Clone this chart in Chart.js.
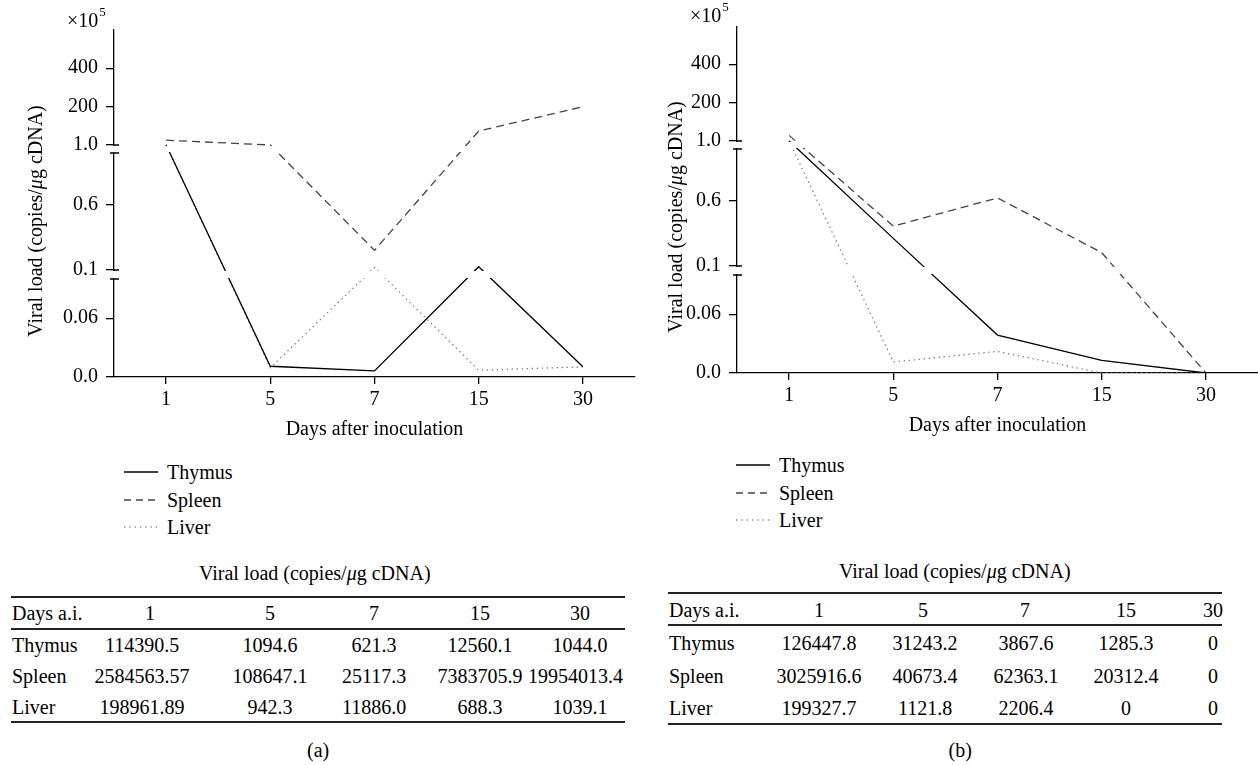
<!DOCTYPE html>
<html>
<head>
<meta charset="utf-8">
<script src="https://cdn.jsdelivr.net/npm/chart.js@4"></script>
<style>
  body { margin: 0; background: #fff; }
  #page { position: relative; width: 1258px; height: 765px; overflow: hidden;
          font-family: 'Liberation Serif', 'Times New Roman', serif; font-size: 20px; color: #000; }
  #page canvas { position: absolute; top: 0; }
  .t { position: absolute; line-height: 24px; white-space: nowrap; }
  .rule { position: absolute; background: #222; }
</style>
</head>
<body>
<div id="page">
  <canvas id="chartA" width="636" height="445" style="left:0"></canvas>
  <canvas id="chartB" width="629" height="445" style="left:629px"></canvas>
</div>
<script>
	// ******************************************************** DATA

	// days after inoculation
	var days = ['1', '5', '7', '15', '30'];
	var organs = ['Thymus', 'Spleen', 'Liver'];

	// viral load, copies/ug cDNA, panel (a)
	var thymusA = ['114390.5', '1094.6', '621.3', '12560.1', '1044.0'];
	var spleenA = ['2584563.57', '108647.1', '25117.3', '7383705.9', '19954013.4'];
	var liverA  = ['198961.89', '942.3', '11886.0', '688.3', '1039.1'];

	// viral load, copies/ug cDNA, panel (b)
	var thymusB = ['126447.8', '31243.2', '3867.6', '1285.3', '0'];
	var spleenB = ['3025916.6', '40673.4', '62363.1', '20312.4', '0'];
	var liverB  = ['199327.7', '1121.8', '2206.4', '0', '0'];

	// broken y axis, values in 1e5 copies
	var yTickValues = [0, 0.06, 0.1, 0.6, 1.0, 200, 400];
	var yTickLabels = ['0.0', '0.06', '0.1', '0.6', '1.0', '200', '400'];

	// ******************************************************** AXIS BREAKS

	// piecewise scale: 0-0.1 | 0.1-1.0 | 1.0-...
	function toUnit(v) {
		if (v < 0.1) return v * 980;
		if (v < 1) return 107 + (v - 0.1) * 130;
		return 232 + (v - 1) * 0.1925;
	}
	function toY(s) { return toUnit(parseFloat(s) / 1e5); }

	var BREAKS = [[98, 107], [224, 232]];

	var brokenAxis = {
		id: 'brokenAxis',
		afterDatasetsDraw: function (chart) {
			var ctx = chart.ctx, y = chart.scales.y, area = chart.chartArea;
			var ax = area.left;
			ctx.save();
			BREAKS.forEach(function (b) {
				var yLow = Math.round(y.getPixelForValue(b[0])), yHigh = Math.round(y.getPixelForValue(b[1]));
				ctx.fillStyle = '#fff';
				ctx.fillRect(ax - 3, yHigh + 1, area.right - ax + 6, yLow - yHigh - 2);
				ctx.strokeStyle = '#000';
				ctx.lineWidth = 1.3;
				ctx.beginPath();
				ctx.moveTo(ax - 4, yLow); ctx.lineTo(ax + 5, yLow);
				ctx.moveTo(ax, yHigh); ctx.lineTo(ax + 5, yHigh);
				ctx.stroke();
			});
			ctx.restore();
		},
		afterDraw: function (chart, args, o) {
			var ctx = chart.ctx;
			ctx.save();
			ctx.fillStyle = '#000';
			// x10^5 above the axis
			ctx.textBaseline = 'middle';
			ctx.textAlign = 'left';
			ctx.font = '20px "Liberation Serif"';
			ctx.fillText('\u00d710', o.expX, o.expY);
			var w = ctx.measureText('\u00d710').width;
			ctx.font = '13px "Liberation Serif"';
			ctx.fillText('5', o.expX + w + 1, o.expY - 9);
			// rotated y title
			var parts = [['Viral load (copies/', ''], ['\u03bc', 'italic '], ['g cDNA)', '']];
			var total = 0;
			parts.forEach(function (p) { ctx.font = p[1] + '20px "Liberation Serif"'; p.push(ctx.measureText(p[0]).width); total += p[2]; });
			ctx.translate(o.titleX, o.titleY);
			ctx.rotate(-Math.PI / 2);
			ctx.textBaseline = 'alphabetic';
			var x = -total / 2;
			parts.forEach(function (p) { ctx.font = p[1] + '20px "Liberation Serif"'; ctx.fillText(p[0], x, 0); x += p[2]; });
			ctx.restore();
		}
	};

	// ******************************************************** CHARTS

	Chart.defaults.font.family = "'Liberation Serif', 'Times New Roman', serif";
	Chart.defaults.font.size = 20;
	Chart.defaults.color = '#000';

	function makeChart(id, series, o) {
		return new Chart(document.getElementById(id), {
			type: 'line',
			data: {
				labels: days,
				datasets: [
					{ label: organs[0], data: series[0].map(toY), borderColor: '#000', borderWidth: 1.3 },
					{ label: organs[1], data: series[1].map(toY), borderColor: '#444', borderWidth: 1.3, borderDash: [8, 5] },
					{ label: organs[2], data: series[2].map(toY), borderColor: '#777', borderWidth: 1.3, borderDash: [1.3, 3.7] }
				]
			},
			options: {
				responsive: false,
				animation: false,
				layout: { padding: { top: o.top, bottom: o.padBottom, left: 0, right: o.right } },
				elements: { point: { radius: 0 }, line: { tension: 0, fill: false } },
				plugins: {
					legend: { display: false },
					tooltip: { enabled: false },
					brokenAxis: o.deco
				},
				scales: {
					x: {
						offset: true,
						grid: { offset: false, drawOnChartArea: false, tickLength: 7, color: '#000', lineWidth: 1.3 },
						border: { color: '#000', width: 1.3 },
						ticks: { padding: 4, maxRotation: 0 },
						title: { display: true, text: 'Days after inoculation', padding: { top: 0, bottom: 3 } },
						afterFit: function (s) { s.height = 68; }
					},
					y: {
						min: 0, max: o.ymax,
						grid: { drawOnChartArea: false, tickLength: 8, color: '#000', lineWidth: 1.3 },
						border: { color: '#000', width: 1.3 },
						ticks: { padding: 8, autoSkip: false, callback: function (v, i) { return yTickLabels[i]; } },
						afterBuildTicks: function (s) { s.ticks = yTickValues.map(function (v) { return { value: toUnit(v) }; }); },
						afterFit: function (s) { s.width = o.yWidth; }
					}
				}
			},
			plugins: [brokenAxis]
		});
	}

	makeChart('chartA', [thymusA, spleenA, liverA],
		{ top: 30, padBottom: 0, right: 1, ymax: 347, yWidth: 114, deco: { expX: 67, expY: 22, titleX: 42, titleY: 221 } });
	makeChart('chartB', [thymusB, spleenB, liverB],
		{ top: 27, padBottom: 4, right: 0, ymax: 346, yWidth: 108, deco: { expX: 61, expY: 17, titleX: 53, titleY: 217 } });

	// ******************************************************** LEGENDS + TABLES

	var page = document.getElementById('page');

	function text(str, x, cy, align, html) {
		var d = document.createElement('div');
		d.className = 't';
		if (html) d.innerHTML = str; else d.textContent = str;
		page.appendChild(d);
		var w = d.offsetWidth;
		var left = align === 'left' ? x : x - w / 2;
		d.style.left = left + 'px';
		d.style.top = (cy - 12) + 'px';
		return d;
	}

	function rule(x0, x1, y, h) {
		var d = document.createElement('div');
		d.className = 'rule';
		d.style.left = x0 + 'px';
		d.style.width = (x1 - x0) + 'px';
		d.style.top = (y - h / 2) + 'px';
		d.style.height = h + 'px';
		page.appendChild(d);
	}

	function legend(x0, y0) {
		var styles = [['#000', ''], ['#444', '7 5'], ['#888', '1.3 4']];
		organs.forEach(function (name, i) {
			var cy = y0 + i * 27.5;
			var svg = document.createElementNS('http://www.w3.org/2000/svg', 'svg');
			svg.setAttribute('width', '34');
			svg.setAttribute('height', '4');
			svg.style.position = 'absolute';
			svg.style.left = x0 + 'px';
			svg.style.top = (cy - 2) + 'px';
			svg.innerHTML = '<line x1="0" y1="2" x2="34" y2="2" stroke="' + styles[i][0] + '" stroke-width="1.3"' +
				(styles[i][1] ? ' stroke-dasharray="' + styles[i][1] + '"' : '') + '/>';
			page.appendChild(svg);
			text(name, x0 + 43, cy, 'left');
		});
	}

	function table(t, series) {
		text('Viral load (copies/<i>\u03bc</i>g cDNA)', t.titleX, t.titleY, 'center', true);
		rule(t.left, t.right, t.rules[0], 1.8);
		rule(t.left, t.right, t.rules[1], 1.5);
		rule(t.left, t.right, t.rules[2], 1.8);
		text('Days a.i.', t.left + 1, t.headY, 'left');
		days.forEach(function (d, i) { text(d, t.headX[i], t.headY, 'center'); });
		series.forEach(function (vals, r) {
			text(organs[r], t.left + 1, t.rowY[r], 'left');
			vals.forEach(function (v, i) {
				var el = text(v, t.valX[i], t.rowY[r], 'center');
				var w = el.offsetWidth;
				if (t.valX[i] + w / 2 > t.right - 2) el.style.left = (t.right - 2 - w) + 'px';
			});
		});
		text(t.tag, t.tagX, 750, 'center');
	}

	legend(124, 472);
	legend(736, 465);

	table({ left: 11, right: 625, titleX: 315, titleY: 573, rules: [597, 629, 722], headY: 613, rowY: [645, 676, 707],
		headX: [150, 270, 374, 480, 580], valX: [142, 270, 374, 480, 580], tag: '(a)', tagX: 318 },
		[thymusA, spleenA, liverA]);
	table({ left: 668, right: 1222, titleX: 955, titleY: 571, rules: [593, 625, 724], headY: 610, rowY: [643, 676, 708],
		headX: [819, 923, 1025, 1126, 1213], valX: [819, 925, 1026, 1126, 1213], tag: '(b)', tagX: 960 },
		[thymusB, spleenB, liverB]);
</script>
</body>
</html>
